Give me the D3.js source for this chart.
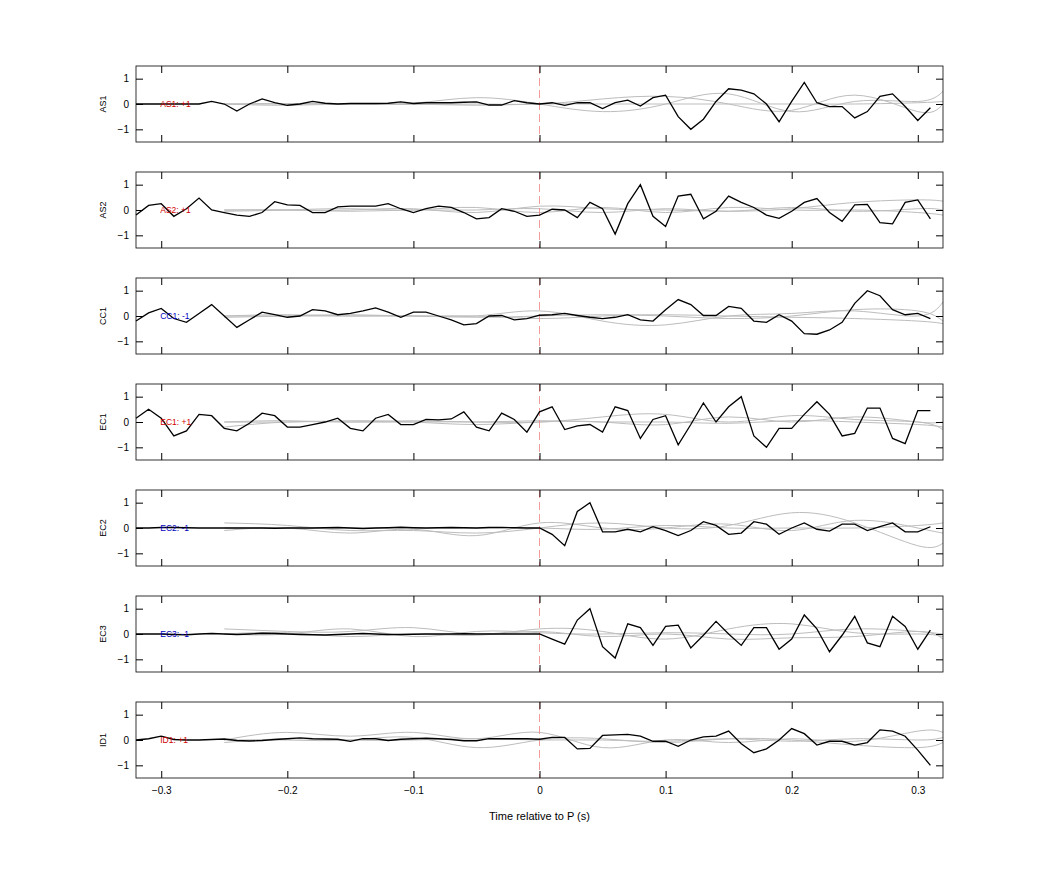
<!DOCTYPE html>
<html><head><meta charset="utf-8">
<script src="https://cdn.jsdelivr.net/npm/d3@7"></script>
<style>body{margin:0;background:#fff}text{font-family:"Liberation Sans",Arial,sans-serif}</style>
</head><body><svg id="chart" width="1042" height="875"></svg>
<script>
// channel names, sign labels and colours of the sign tag
var channels = ["AS1", "AS2", "CC1", "EC1", "EC2", "EC3", "ID1"];
var signs = ["+1", "+1", "-1", "+1", "-1", "-1", "+1"];
var signColors = ["#d00000", "#d00000", "#0000c0", "#d00000", "#0000c0", "#0000c0", "#d00000"];

// black trace sample times: -0.32 .. 0.31 step 0.01
var times = d3.range(64).map(i => Math.round((-0.32 + i * 0.01) * 100) / 100);

var as1 = [0,0,0,0,0,0,0.1,0,-0.28,0,0.2,0.05,-0.05,0,0.1,0.03,0,0.02,0.02,0.02,0.03,0.08,0.02,0.05,0.05,0.05,0.07,0.08,-0.04,-0.04,0.13,0.05,
  0,0.05,-0.05,0.05,0.05,-0.18,0.05,0.15,-0.08,0.25,0.35,-0.5,-1.0,-0.6,0.1,0.6,0.55,0.4,0,-0.7,0.1,0.85,0.05,-0.1,-0.1,-0.55,-0.3,0.3,0.4,-0.1,-0.65,-0.15];
var as2 = [-0.2,0.18,0.25,-0.25,0.05,0.47,0,-0.1,-0.2,-0.25,-0.1,0.33,0.2,0.18,-0.1,-0.1,0.12,0.15,0.15,0.15,0.25,0.05,-0.1,0.05,0.15,0.1,-0.1,-0.35,-0.3,0.05,-0.05,-0.25,
  -0.2,0.03,0,-0.3,0.3,0.05,-0.95,0.25,1.0,-0.25,-0.65,0.55,0.62,-0.35,-0.05,0.55,0.3,0.1,-0.2,-0.33,-0.05,0.3,0.45,-0.1,-0.45,0.2,0.22,-0.5,-0.55,0.3,0.4,-0.35];
var cc1 = [-0.2,0.12,0.3,-0.1,-0.25,0.1,0.45,0,-0.45,-0.15,0.15,0.05,-0.05,0,0.25,0.2,0.05,0.1,0.2,0.32,0.15,-0.05,0.15,0.15,0,-0.15,-0.35,-0.3,0,0.02,-0.15,-0.1,
  0.03,0.05,0.1,0.02,-0.05,-0.1,-0.05,0.05,-0.15,-0.2,0.25,0.65,0.45,0.02,0.02,0.38,0.3,-0.2,-0.25,0.05,-0.2,-0.7,-0.72,-0.55,-0.25,0.5,1.0,0.8,0.25,0.05,0.1,-0.1];
var ec1 = [0.15,0.5,0.15,-0.55,-0.35,0.3,0.25,-0.25,-0.35,-0.05,0.35,0.25,-0.2,-0.2,-0.1,0,0.15,-0.25,-0.35,0.15,0.3,-0.1,-0.1,0.1,0.08,0.12,0.4,-0.2,-0.35,0.35,0.1,-0.4,
  0.4,0.6,-0.3,-0.15,-0.1,-0.4,0.6,0.45,-0.65,0.1,0.25,-0.9,-0.1,0.75,0,0.6,1.0,-0.55,-1.0,-0.25,-0.25,0.3,0.8,0.3,-0.55,-0.45,0.55,0.55,-0.65,-0.85,0.45,0.45];
var ec2 = [0,0,0.02,0.02,0.01,0,0,0,0,0,0,-0.01,0,0,0,0.01,0.02,0,-0.02,0,0.01,0.03,0.01,0,0.01,0.02,0.01,0,0.02,0.02,0.01,0,
  0,-0.25,-0.7,0.65,1.0,-0.15,-0.15,-0.05,-0.15,0.05,-0.1,-0.3,-0.1,0.25,0.1,-0.25,-0.2,0.25,0.15,-0.25,0,0.2,-0.05,-0.12,0.15,0.15,-0.1,0.05,0.2,-0.15,-0.15,0.05];
var ec3 = [0,0,0,-0.02,-0.03,0,0.02,0,-0.02,0,0.03,0.02,0,-0.02,-0.03,-0.04,-0.02,0,0.02,0,-0.02,-0.02,-0.01,0,0,0,0.01,0,0,0,0,0,
  0,-0.2,-0.4,0.55,1.0,-0.5,-0.95,0.4,0.25,-0.45,0.3,0.35,-0.55,-0.05,0.5,0,-0.45,0.25,0.25,-0.6,-0.2,0.75,0.2,-0.7,-0.05,0.7,-0.35,-0.5,0.7,0.3,-0.6,0.15];
var id1 = [0,0.05,0.15,0.02,0,0,0.02,0.04,-0.02,-0.04,-0.02,0.02,0.05,0.08,0.05,0.04,0.03,-0.05,0.05,0.05,-0.02,0.03,0.05,0.07,0.05,0.02,-0.03,-0.03,0.05,0.05,0.05,0.05,
  0.03,0.1,0.1,-0.35,-0.33,0.18,0.2,0.22,0.15,-0.05,-0.05,-0.25,0,0.12,0.15,0.35,-0.15,-0.5,-0.35,0,0.45,0.25,-0.2,-0.05,-0.05,-0.2,-0.1,0.4,0.35,0.15,-0.4,-1.0];
var traces = [as1, as2, cc1, ec1, ec2, ec3, id1];

// grey smooth traces, sampled coarsely
var greyTimes = [-0.25,-0.2,-0.15,-0.1,-0.05,0,0.05,0.1,0.15,0.2,0.25,0.3,0.32];
var greyAS1 = [[0,0.02,0,0.03,0.25,0,-0.3,0,0.4,-0.3,0.1,0.1,0.5],[0,-0.05,0,-0.02,0,0,0.2,0.3,0,-0.25,0.35,-0.3,0],[0,0,0,0,-0.05,0,0,0,0,0,0,0.05,0.1]];
var greyAS2 = [[0,0,0,0.05,-0.1,0.15,0.05,0,-0.05,0.05,0.3,0.4,0.35],[-0.05,0,0.05,0,0.1,-0.1,0.1,-0.1,0.1,0,0,-0.1,-0.2],[0,0,-0.05,0,0,0.05,-0.1,0.05,-0.05,0.1,-0.05,0.05,0]];
var greyCC1 = [[0,0,0,0,0,0.2,-0.2,-0.35,0,0.1,0.2,0,0.55],[0,0.05,0,0,-0.05,0,0.05,0,-0.1,0,0.25,0.2,-0.2],[-0.05,0,0.05,0,0,-0.1,0,0.05,0,-0.05,-0.1,-0.2,-0.3]];
var greyEC1 = [[-0.2,0,0,0,0,0,0.2,0.3,0,0.25,0.1,0,-0.3],[0,0,0.05,0,-0.1,0,0,-0.1,0.2,0,0.2,0,0],[0,0.05,0,0.05,0,0.05,0,0,-0.05,0.05,0,-0.1,-0.2]];
var greyEC2 = [[0.2,0.1,-0.1,-0.1,-0.2,0,0.2,0,0.1,0.6,0.2,-0.7,-0.6],[-0.1,0,-0.2,-0.05,-0.3,0.2,0,0,0.15,-0.1,0.3,0,-0.2],[0,0,0,0,0,0,-0.05,0.1,0,0,0,0.1,0.2]];
var greyEC3 = [[0.2,0.1,0.1,0.25,0,0.2,0.1,-0.2,0.2,0.4,0.05,0,-0.1],[0,0.05,-0.1,0,-0.05,0.1,-0.1,0,-0.2,-0.15,-0.1,0.1,-0.2],[0,0,0.2,-0.1,0.1,0.05,0,0.05,0,0,0.2,0.1,0]];
var greyID1 = [[0,0.3,0.15,0.3,0.05,0.3,-0.3,0,-0.1,0.05,-0.05,0.35,0.3],[0,0,0,0.1,-0.3,0,0.05,-0.1,0.05,0,-0.2,-0.3,-0.1],[-0.1,0.05,0,0,0.05,0,0,-0.05,0.05,-0.05,0.05,0,0.1]];
var greys = [greyAS1, greyAS2, greyCC1, greyEC1, greyEC2, greyEC3, greyID1];

var xTicks = [-0.3, -0.2, -0.1, 0, 0.1, 0.2, 0.3];
var yTicks = [-1, 0, 1];

var svg = d3.select("#chart");
var left = 136, right = 943, panelH = 76, step = 106, top0 = 66;
var x = d3.scaleLinear().domain([-0.32, 0.32]).range([left, right]);

channels.forEach(function (name, k) {
    var top = top0 + k * step;
    var y = d3.scaleLinear().domain([-1.5, 1.5]).range([top + panelH, top]);
    var g = svg.append("g");

    var line = d3.line().x(d => x(d[0])).y(d => y(d[1]));
    var smooth = d3.line().x(d => x(d[0])).y(d => y(d[1])).curve(d3.curveNatural);

    greys[k].forEach(function (vals) {
        g.append("path").datum(greyTimes.map((t, i) => [t, vals[i]]))
            .attr("d", smooth).attr("fill", "none").attr("stroke", "#bdbdbd").attr("stroke-width", 1);
    });

    g.append("line").attr("x1", x(0)).attr("x2", x(0)).attr("y1", top).attr("y2", top + panelH)
        .attr("stroke", "#f08080").attr("stroke-dasharray", "8,4").attr("stroke-width", 0.8);

    g.append("path").datum(times.map((t, i) => [t, traces[k][i]]))
        .attr("d", line).attr("fill", "none").attr("stroke", "#000").attr("stroke-width", 1.3);

    g.append("text").attr("x", x(-0.3) - 1).attr("y", y(0) + 3).attr("font-size", 8.5)
        .attr("fill", signColors[k]).text(name + ": " + signs[k]);

    // box with inward ticks on all four sides
    g.append("rect").attr("x", left).attr("y", top).attr("width", right - left).attr("height", panelH)
        .attr("fill", "none").attr("stroke", "#000").attr("stroke-width", 0.8);
    g.append("g").attr("transform", "translate(0," + (top + panelH) + ")")
        .call(d3.axisBottom(x).tickValues(xTicks).tickSizeInner(-7).tickSizeOuter(0)
            .tickFormat(k === channels.length - 1 ? d3.format("") : ""))
        .call(a => a.select(".domain").remove())
        .call(a => a.selectAll("text").attr("font-size", 10).attr("dy", "1.3em"));
    g.append("g").attr("transform", "translate(0," + top + ")")
        .call(d3.axisTop(x).tickValues(xTicks).tickSizeInner(-7).tickSizeOuter(0).tickFormat(""))
        .call(a => a.select(".domain").remove());
    g.append("g").attr("transform", "translate(" + left + ",0)")
        .call(d3.axisLeft(y).tickValues(yTicks).tickSizeInner(-7).tickSizeOuter(0).tickFormat(d3.format("")))
        .call(a => a.select(".domain").remove())
        .call(a => a.selectAll("text").attr("font-size", 10).attr("dx", "-0.1em").attr("x", -6));
    g.append("g").attr("transform", "translate(" + right + ",0)")
        .call(d3.axisRight(y).tickValues(yTicks).tickSizeInner(-7).tickSizeOuter(0).tickFormat(""))
        .call(a => a.select(".domain").remove());

    g.append("text").attr("transform", "translate(106," + y(0) + ") rotate(-90)")
        .attr("text-anchor", "middle").attr("font-size", 9).text(name);
});

svg.append("text").attr("x", x(0)).attr("y", 820).attr("text-anchor", "middle")
    .attr("font-size", 11).text("Time relative to P (s)");
</script></body></html>
